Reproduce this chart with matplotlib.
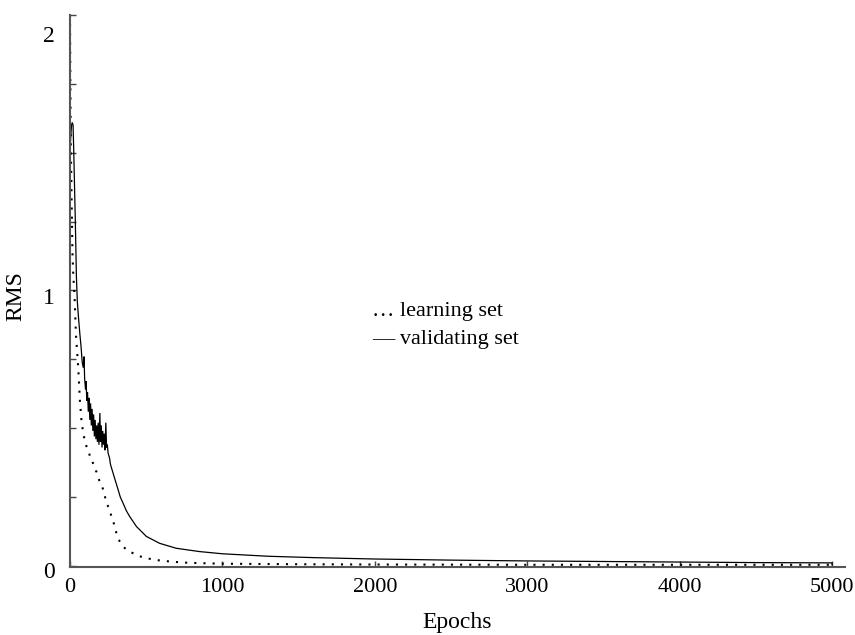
import matplotlib
matplotlib.use("Agg")
import matplotlib.pyplot as plt
import matplotlib.transforms as mtransforms

# Learning set (dotted)
learn_epochs = [0, 2, 4, 6, 10, 16, 22, 29, 39, 54, 65, 75, 87, 100, 110, 120, 135, 145,
                152, 165, 175, 185, 200, 210, 218, 230, 240, 255, 272, 290, 305, 325, 348,
                380, 414, 450, 501, 570, 653, 750, 850, 1000, 1500, 2000, 3000, 4000, 5000]
learn_rms = [2.00, 1.80, 1.62, 1.50, 1.35, 1.14, 1.05, 0.99, 0.84, 0.72, 0.60, 0.53, 0.48,
             0.45, 0.43, 0.42, 0.39, 0.385, 0.37, 0.35, 0.34, 0.32, 0.30, 0.29, 0.276, 0.25,
             0.228, 0.21, 0.18, 0.15, 0.118, 0.09, 0.07, 0.055, 0.046, 0.036, 0.028, 0.021,
             0.016, 0.012, 0.010, 0.008, 0.006, 0.005, 0.004, 0.004, 0.004]

# Validating set (solid)
valid_epochs = [0, 5, 10, 15, 20, 24, 28, 35, 42, 48, 56, 65, 72, 80, 87, 92, 96, 102, 106,
                110, 115, 120, 125, 130, 135, 140, 145, 150, 155, 160, 165, 170, 175, 180,
                185, 190, 196, 200, 205, 210, 215, 220, 225, 230, 235, 240, 245, 250, 255,
                260, 265, 270, 283, 300, 316, 330, 348, 370, 392, 436, 501, 588, 697, 850,
                1000, 1300, 1600, 2000, 2500, 3000, 3500, 4000, 4500, 5000, 5000]
valid_rms = [1.50, 1.56, 1.60, 1.61, 1.60, 1.52, 1.42, 1.25, 1.05, 0.96, 0.90, 0.84, 0.80,
             0.74, 0.72, 0.76, 0.68, 0.64, 0.67, 0.60, 0.63, 0.56, 0.61, 0.53, 0.59, 0.51,
             0.57, 0.49, 0.55, 0.47, 0.53, 0.46, 0.51, 0.45, 0.52, 0.44, 0.555, 0.45, 0.51,
             0.43, 0.49, 0.44, 0.48, 0.42, 0.52, 0.43, 0.44, 0.41, 0.40, 0.39, 0.37, 0.36,
             0.336, 0.305, 0.276, 0.25, 0.228, 0.20, 0.179, 0.143, 0.107, 0.082, 0.064,
             0.052, 0.044, 0.035, 0.030, 0.025, 0.021, 0.018, 0.016, 0.014, 0.012, 0.011,
             0.004]

x_ticks = [0, 1000, 2000, 3000, 4000, 5000]
y_major = [0, 1, 2]
y_major_labels = ['0', '1', '2']
y_label_drop_px = [7, 8, 21]
y_minor = [0.25, 0.5, 0.75, 1.25, 1.5, 1.75]

plt.rcParams['font.family'] = ['Liberation Serif', 'DejaVu Serif']

fig = plt.figure(figsize=(8.55, 6.35), dpi=100)
ax = fig.add_axes([70/855, 1 - 567/635, (845 - 70)/855, (567 - 15)/635])

ax.plot(valid_epochs, valid_rms, color='black', lw=0.9, solid_joinstyle='miter')
ax.plot(learn_epochs, learn_rms, color='black', lw=1.5, linestyle=(0, (1, 3.4)),
        dash_capstyle='butt')

ax.set_xlim(0, 5085)
ax.set_ylim(-0.004, 2.0)

ax.set_xticks(x_ticks)
ax.set_yticks(y_major)
ax.set_yticks(y_minor, minor=True)
ax.tick_params(axis='both', which='both', direction='in', length=4, width=1,
               color='#444444', labelsize=16)
ax.tick_params(axis='x', pad=8)
ax.tick_params(axis='y', labelleft=False)

# y tick labels sit a little below their ticks in the reference
ytrans = mtransforms.blended_transform_factory(ax.transAxes, ax.transData)
for val, lab, drop in zip(y_major, y_major_labels, y_label_drop_px):
    off = mtransforms.ScaledTranslation(0, -drop / 100, fig.dpi_scale_trans)
    ax.text(-15 / 775, val, lab, transform=ytrans + off, ha='right', va='center',
            fontsize=17)

for s in ['top', 'right']:
    ax.spines[s].set_visible(False)
for s in ['left', 'bottom']:
    ax.spines[s].set_color('#555555')
    ax.spines[s].set_linewidth(1.5)

ax.set_xlabel('Epochs', fontsize=17, labelpad=11)
ax.set_ylabel('RMS', fontsize=17)
ax.yaxis.set_label_coords(-44 / 775, (567 - 296) / 552)

ax.text(0.39, 0.462, '\u2026 learning set', transform=ax.transAxes, fontsize=16,
        va='center', ha='left')
ax.text(0.39, 0.413, '\u2014 validating set', transform=ax.transAxes, fontsize=16,
        va='center', ha='left')

fig.savefig('out.png', dpi=100)
